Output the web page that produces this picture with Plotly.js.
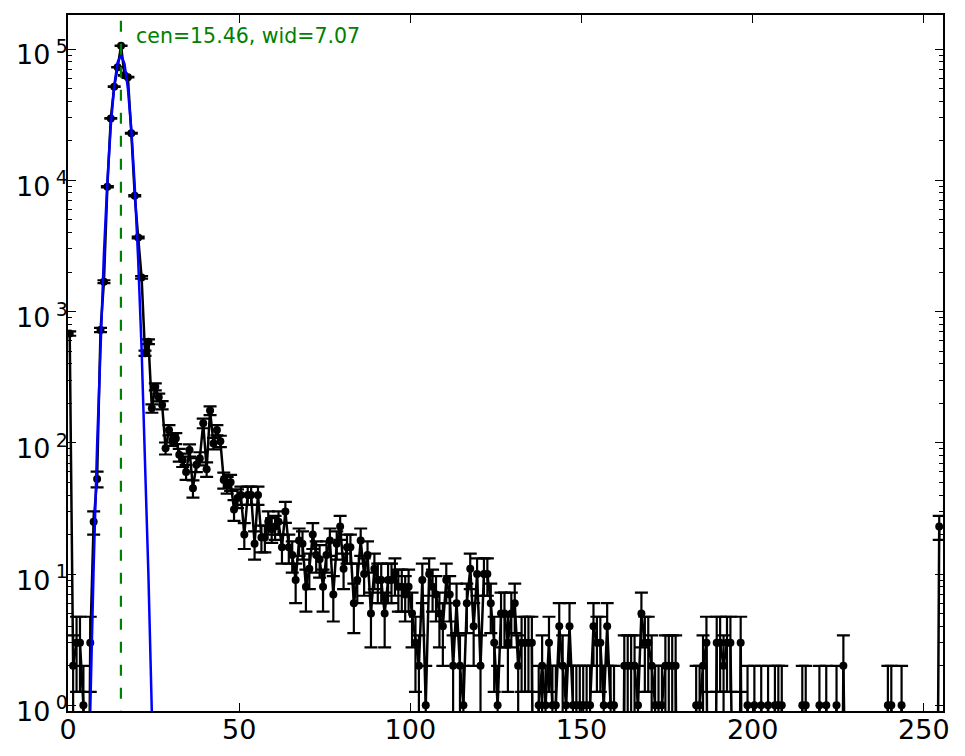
<!DOCTYPE html>
<html>
<head>
<meta charset="utf-8">
<script src="https://cdn.plot.ly/plotly-3.0.1.min.js"></script>
<style>
  html, body { margin: 0; padding: 0; background: #fff; }
  #chart { width: 965px; height: 756px; }
</style>
</head>
<body>
<div id="chart"></div>
<script>
// Bin centres are channel + 0.5 (channels 0..254)
const channels = Array.from({length: 255}, (_, i) => i);

const counts = [
  680, 2, 3, 3, 1, 0, 3, 25, 53, 723,
  1690, 8930, 29600, 51600, 72600, 106000, 63000, 61000, 22800, 7620,
  3670, 1820, 481, 589, 183, 267, 222, 194, 91, 125,
  105, 108, 81, 74, 60, 88, 45, 68, 76, 141,
  63, 176, 99, 125, 103, 52, 48, 50, 31, 38,
  40, 20, 40, 40, 17, 40, 19, 19, 25, 22,
  23, 25, 16, 30, 16, 14, 9, 18, 17, 8,
  11, 20, 14, 13, 8, 14, 18, 7, 17, 23,
  11, 16, 16, 6, 9, 18, 10, 14, 5, 11,
  9, 9, 5, 9, 9, 10, 8, 8, 7, 8,
  5, 3, 2, 9, 1, 10, 8, 7, 5, 4,
  9, 7, 2, 6, 2, 1, 6, 11, 4, 10,
  2, 10, 10, 6, 3, 1, 5, 5, 3, 5,
  6, 2, 3, 3, 3, 3, 0, 1, 2, 1,
  3, 1, 1, 4, 2, 1, 4, 1, 1, 1,
  1, 1, 1, 4, 3, 3, 1, 4, 1, 1,
  0, 0, 2, 2, 2, 2, 1, 5, 3, 3,
  2, 1, 1, 1, 2, 2, 2, 2, 0, 0,
  0, 0, 0, 1, 1, 2, 3, 0, 0, 3,
  3, 2, 3, 3, 0, 0, 3, 0, 1, 0,
  1, 0, 1, 0, 1, 0, 1, 1, 1, 0,
  0, 0, 0, 0, 1, 1, 0, 0, 0, 1,
  0, 1, 0, 0, 1, 0, 2, 0, 0, 0,
  0, 0, 0, 0, 0, 0, 0, 0, 0, 1,
  1, 0, 0, 1, 0, 0, 0, 0, 0, 0,
  0, 0, 0, 0, 23
];

// Fit curve, at channels 5..25
const fitChannels = [5, 6, 7, 8, 9, 10, 11, 12, 13, 14, 15, 16, 17, 18, 19, 20, 21, 22, 23, 24, 25];
const fitValues = [0.073, 1.05, 11.5, 95, 592, 2775, 9790, 26070, 52300, 79000, 90000,
                   77200, 49950, 24350, 8940, 2477, 517, 81, 9.6, 0.86, 0.058];

const fitCentre = 15.46;
const fitWidthLabel = 'cen=15.46, wid=7.07';

const yTickVals = [1, 10, 100, 1000, 10000, 100000];
const yTickText = ['10\u2009<sup>0</sup>', '10\u2009<sup>1</sup>', '10\u2009<sup>2</sup>',
                   '10\u2009<sup>3</sup>', '10\u2009<sup>4</sup>', '10\u2009<sup>5</sup>'];
const xTickVals = [0, 50, 100, 150, 200, 250];

// derived
const xs = channels.map(c => c + 0.5);
const yLine = counts.map(v => v > 0 ? v : 1e-3);   // zero bins clipped below the axis
const yErr = counts.map(v => Math.sqrt(v));
const fitX = fitChannels.map(c => c + 0.5);

const minorVals = [];
for (let d = 0; d < 6; d++) {
  for (let m = 2; m <= 9; m++) minorVals.push(m * Math.pow(10, d));
}

const traces = [
  {
    x: xs, y: yLine, type: 'scatter', mode: 'lines+markers',
    line: {color: 'black', width: 2.5},
    marker: {color: 'black', size: 8},
    error_y: {type: 'data', array: yErr, visible: true, color: 'black', thickness: 2.2, width: 6.5},
    hoverinfo: 'x+y'
  },
  {
    x: fitX, y: fitValues, type: 'scatter', mode: 'lines',
    line: {color: '#0000ff', width: 2.5}
  },
  {
    x: [fitCentre, fitCentre], y: [0.5, 1e6], type: 'scatter', mode: 'lines',
    line: {color: '#008000', width: 2.2, dash: '11px,12px'}
  }
];

const axisCommon = {
  showline: true, linecolor: 'black', linewidth: 1.8, mirror: 'allticks',
  ticks: 'inside', ticklen: 8, tickwidth: 1, tickcolor: 'black',
  showgrid: false, zeroline: false,
  tickfont: {family: 'DejaVu Sans', size: 27, color: 'black'}
};

const layout = {
  width: 965, height: 756,
  margin: {l: 68, r: 22, t: 15, b: 45, pad: 0},
  paper_bgcolor: 'white', plot_bgcolor: 'white',
  showlegend: false,
  font: {family: 'DejaVu Sans', color: 'black'},
  xaxis: Object.assign({}, axisCommon, {
    range: [0, 255.6], tickmode: 'array', tickvals: xTickVals,
    ticklabelstandoff: -6
  }),
  yaxis: Object.assign({}, axisCommon, {
    type: 'log', range: [-0.043, 5.259],
    tickmode: 'array', tickvals: yTickVals, ticktext: yTickText,
    ticklabelstandoff: -7, ticklabelshift: 6,
    minor: {ticks: 'inside', ticklen: 4, tickwidth: 1, tickcolor: 'black',
            tickmode: 'array', tickvals: minorVals, showgrid: false}
  }),
  annotations: [{
    text: fitWidthLabel, xref: 'x', yref: 'paper',
    x: 19.2, y: 0.9694, xanchor: 'left', yanchor: 'middle',
    showarrow: false, font: {family: 'DejaVu Sans', size: 20.5, color: '#008000'}
  }]
};

Plotly.newPlot('chart', traces, layout, {displayModeBar: false, staticPlot: true});
</script>
</body>
</html>
